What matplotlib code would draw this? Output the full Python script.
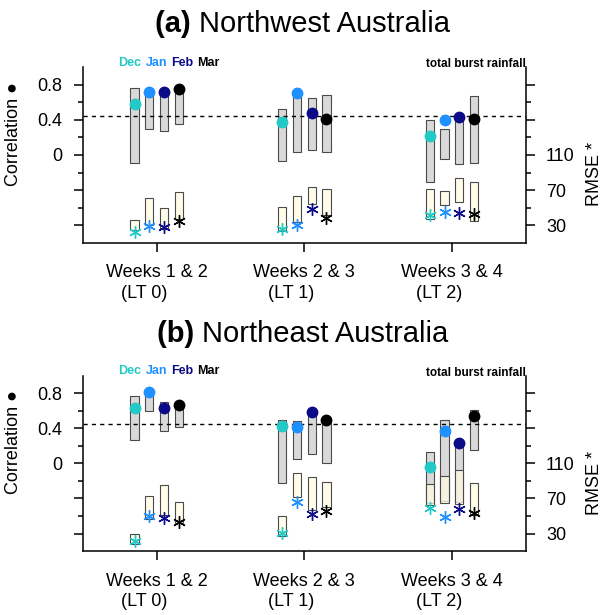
"""
Burst rainfall skill by lead time: correlation (grey bars, dots) and
RMSE (cream bars, asterisks) for Northwest and Northeast Australia.
"""

import numpy as np
import matplotlib.pyplot as plt
from matplotlib.colors import to_rgba

plt.rcParams["font.family"] = ["Liberation Sans", "DejaVu Sans"]

# ─── Data ───
leads = [1, 2, 3]
lead_labels = ["Weeks 1 & 2\n   (LT 0)", "Weeks 2 & 3\n   (LT 1)", "Weeks 3 & 4\n   (LT 2)"]
months = ["Dec", "Jan", "Feb", "Mar"]
month_colors = ["#22c9c6", "#1e90ff", "#0b0b88", "#000000"]

# Northwest Australia (rows = lead, cols = month)
nw_corr_top = [[0.76, 0.73, 0.75, 0.74], [0.52, 0.68, 0.65, 0.68], [0.40, 0.29, 0.42, 0.67]]
nw_corr_bot = [[-0.09, 0.29, 0.27, 0.35], [-0.07, 0.03, 0.06, 0.03], [-0.31, -0.05, -0.10, -0.09]]
nw_corr_dot = [[0.58, 0.72, 0.72, 0.75], [0.38, 0.70, 0.48, 0.41], [0.22, 0.40, 0.43, 0.41]]
nw_rmse_top = [[35.6, 60.8, 49.6, 67.6], [50.3, 62.8, 74.0, 71.0], [71.5, 69.5, 83.9, 79.7]]
nw_rmse_bot = [[24.4, 30.4, 25.5, 37.6], [23.6, 33.8, 54.5, 41.6], [37.6, 53.4, 56.8, 35.3]]
nw_rmse_star = [[22.4, 29.0, 28.5, 35.3], [26.3, 30.0, 48.9, 38.7], [42.0, 45.0, 44.4, 43.2]]
nw_sig = 0.44

# Northeast Australia
ne_corr_top = [[0.77, 0.80, 0.70, 0.66], [0.50, 0.48, 0.56, 0.46], [0.13, 0.49, 0.22, 0.61]]
ne_corr_bot = [[0.27, 0.60, 0.37, 0.42], [-0.22, 0.05, 0.11, 0.01], [-0.45, -0.43, -0.44, 0.15]]
ne_corr_dot = [[0.63, 0.81, 0.63, 0.67], [0.43, 0.41, 0.59, 0.49], [-0.04, 0.37, 0.23, 0.54]]
ne_rmse_top = [[30.0, 72.8, 85.0, 65.7], [49.8, 98.6, 94.0, 88.4], [86.8, 95.2, 102.4, 87.6]]
ne_rmse_bot = [[18.0, 46.4, 51.2, 41.8], [27.4, 71.7, 57.3, 60.3], [62.6, 65.2, 63.8, 50.9]]
ne_rmse_star = [[21.7, 50.1, 47.8, 43.0], [31.1, 66.0, 52.0, 56.1], [59.5, 49.3, 58.4, 53.9]]
ne_sig = 0.45

OFFSETS = [-0.15, -0.05, 0.05, 0.15]
BAR_W = 0.055
GREY = "#d9d9d9"
CREAM = to_rgba("#fffbe2", 0.75)
EDGE = "#4a4a4a"
ASTERISK = (6, 2, 0)


def style_axis(ax, side):
    ax.tick_params(axis="both", which="major", direction="out", length=6.5,
                   width=1.1, labelsize=13, pad=8)
    ax.tick_params(axis="y", which="minor", direction="out", length=3.5, width=1.1)
    ax.tick_params(axis="x", pad=9)
    for s in ["top", "left", "right", "bottom"]:
        ax.spines[s].set_linewidth(1.1)
    ax.spines["top"].set_visible(False)
    if side == "left":
        ax.spines["right"].set_visible(False)
    else:
        ax.spines["left"].set_visible(False)
        ax.spines["bottom"].set_visible(False)


def panel_title(fig, letter, title, y):
    """Bold '(a)' followed by a regular title, centred as one line."""
    r = fig.canvas.get_renderer()
    t1 = fig.text(0, y, f"({letter}) ", fontsize=21, fontweight="bold",
                  ha="left", va="center")
    t2 = fig.text(0, y, title, fontsize=21, ha="left", va="center")
    w1 = t1.get_window_extent(r).width / fig.bbox.width
    w2 = t2.get_window_extent(r).width / fig.bbox.width
    x0 = 0.5 - (w1 + w2) / 2
    t1.set_x(x0)
    t2.set_x(x0 + w1)


def draw_panel(fig, rect, title, letter, corr_top, corr_bot, corr_dot,
               rmse_top, rmse_bot, rmse_star, sig, title_y):
    ax = fig.add_axes(rect)
    ax2 = ax.twinx()

    ax.set_xlim(0.5, 3.5)
    ax.set_ylim(-1.0, 1.0)
    ax2.set_ylim(10, 210)

    for i, lead in enumerate(leads):
        for j in range(len(months)):
            x = lead + OFFSETS[j]
            ax.bar(x, corr_top[i][j] - corr_bot[i][j], bottom=corr_bot[i][j],
                   width=BAR_W, color=GREY, edgecolor=EDGE, linewidth=0.8, zorder=2)
            ax2.bar(x, rmse_top[i][j] - rmse_bot[i][j], bottom=rmse_bot[i][j],
                    width=BAR_W, color=CREAM, edgecolor=EDGE, linewidth=0.8, zorder=2)
            ax.plot(x, corr_dot[i][j], "o", color=month_colors[j], markersize=7.5,
                    zorder=4)
            ax2.plot(x, rmse_star[i][j], marker=ASTERISK, color=month_colors[j],
                     markersize=9, markeredgewidth=1.0, linestyle="none", zorder=4)

    ax.axhline(sig, color="black", linestyle=(0, (3, 3)), linewidth=1.0, zorder=3)

    # ticks
    ax.set_xticks(leads)
    ax.set_xticklabels(lead_labels, multialignment="left", linespacing=1.25)
    ax.set_yticks([-0.8, -0.4, 0, 0.4, 0.8])
    ax.set_yticklabels(["", "", "0", "0.4", "0.8"])
    ax.set_yticks([-0.6, -0.2, 0.2, 0.6], minor=True)
    ax2.set_yticks([30, 70, 110, 150, 190])
    ax2.set_yticklabels(["30", "70", "110", "", ""])
    ax2.set_yticks([50, 90, 130, 170], minor=True)
    style_axis(ax, "left")
    style_axis(ax2, "right")

    ax.set_ylabel("Correlation ●", fontsize=13)
    ax.yaxis.set_label_coords(-0.138, 0.62)
    ax2.set_ylabel("RMSE *", fontsize=13, rotation=90)
    ax2.yaxis.set_label_coords(1.135, 0.39)

    # month key and caption
    for xm, name, col in zip([0.74, 0.925, 1.10, 1.275], months, month_colors):
        ax.text(xm, 1.05, name, color=col, fontsize=9, fontweight="bold",
                ha="left", va="center", clip_on=False)
    ax.text(3.5, 1.03, "total burst rainfall", fontsize=8.5, fontweight="bold",
            ha="right", va="center", clip_on=False)

    panel_title(fig, letter, title, title_y)
    return ax, ax2


def main():
    fig = plt.figure(figsize=(6.05, 6.15), dpi=100)
    draw_panel(fig, [0.137, 0.605, 0.732, 0.286], "Northwest Australia", "a",
               nw_corr_top, nw_corr_bot, nw_corr_dot,
               nw_rmse_top, nw_rmse_bot, nw_rmse_star, nw_sig, 1 - 24 / 615)
    draw_panel(fig, [0.137, 0.104, 0.732, 0.285], "Northeast Australia", "b",
               ne_corr_top, ne_corr_bot, ne_corr_dot,
               ne_rmse_top, ne_rmse_bot, ne_rmse_star, ne_sig, 1 - 334 / 615)
    fig.savefig("out.png", dpi=100)
    plt.close(fig)


if __name__ == "__main__":
    main()
